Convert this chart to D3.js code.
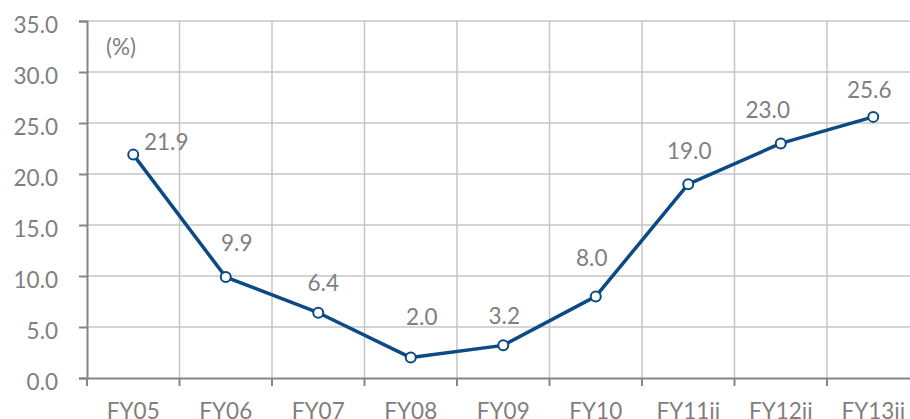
<!DOCTYPE html>
<html>
<head>
<meta charset="utf-8">
<script src="https://cdn.jsdelivr.net/npm/d3@7/dist/d3.min.js"></script>
<style>
  html, body { margin: 0; padding: 0; background: #ffffff; overflow: hidden; }
  svg { display: block; }
  text { font-family: Lato, "Open Sans", sans-serif; fill: #7f7f7f; }
</style>
</head>
<body>
<svg id="chart" width="910" height="419"></svg>
<script>
// Fiscal years and their percentage values
const categories = ["FY05", "FY06", "FY07", "FY08", "FY09", "FY10", "FY11ii", "FY12ii", "FY13ii"];
const values = [21.9, 9.9, 6.4, 2.0, 3.2, 8.0, 19.0, 23.0, 25.6];
const yTicks = [0, 5, 10, 15, 20, 25, 30, 35];
const unitLabel = "(%)";

// Nudges for the value labels, in pixels relative to each point
const labelOffsets = [[33, -5], [11, -26], [5, -22], [11, -33], [1, -21], [-4, -30], [1, -25], [-13, -25], [-4, -19]];

const svg = d3.select("#chart");
const plotLeft = 87, plotRight = 919.5, plotTop = 21, plotBottom = 378;
const fontSize = 22.5;

const x = d3.scaleBand().domain(categories).range([plotLeft, plotRight]).padding(0);
const y = d3.scaleLinear().domain([0, 35]).range([plotBottom, plotTop]);

// Horizontal gridlines
svg.append("g")
  .selectAll("line")
  .data(yTicks.filter(d => d > 0))
  .join("line")
  .attr("x1", plotLeft).attr("x2", plotRight)
  .attr("y1", d => y(d)).attr("y2", d => y(d))
  .attr("stroke", "#c6c6c6").attr("stroke-width", 1.5);

// Vertical gridlines at category boundaries
svg.append("g")
  .selectAll("line")
  .data(categories)
  .join("line")
  .attr("x1", d => x(d) + x.bandwidth()).attr("x2", d => x(d) + x.bandwidth())
  .attr("y1", plotTop).attr("y2", plotBottom)
  .attr("stroke", "#c6c6c6").attr("stroke-width", 1.5);

// Y axis
const yAxis = d3.axisLeft(y).tickValues(yTicks).tickSize(8).tickPadding(21)
  .tickFormat(d3.format(".1f"));
const gy = svg.append("g").attr("transform", `translate(${plotLeft},0)`).call(yAxis);
gy.select(".domain").attr("stroke", "#868686").attr("stroke-width", 2);
gy.selectAll(".tick line").attr("stroke", "#868686").attr("stroke-width", 2);
gy.selectAll(".tick text")
  .attr("fill", "#7f7f7f")
  .style("font-family", "Lato, 'Open Sans', sans-serif")
  .style("font-size", fontSize + "px")
  .attr("dy", "0.5em");

// X axis with ticks on category boundaries
const xAxis = d3.axisBottom(x).tickSize(0).tickPadding(0);
const gx = svg.append("g").attr("transform", `translate(0,${plotBottom})`).call(xAxis);
gx.select(".domain").attr("stroke", "#868686").attr("stroke-width", 2);
gx.selectAll(".tick text")
  .attr("fill", "#7f7f7f")
  .style("font-family", "Lato, 'Open Sans', sans-serif")
  .style("font-size", fontSize + "px")
  .attr("y", 41).attr("dy", 0);
gx.append("g")
  .selectAll("line")
  .data([plotLeft].concat(categories.map(d => x(d) + x.bandwidth())))
  .join("line")
  .attr("x1", d => d).attr("x2", d => d)
  .attr("y1", 0).attr("y2", 8)
  .attr("stroke", "#868686").attr("stroke-width", 2);

// Unit label
svg.append("text")
  .attr("x", 106).attr("y", 55)
  .style("font-size", fontSize + "px")
  .text(unitLabel);

// Line series
const pts = categories.map((c, i) => ({ c, v: values[i], off: labelOffsets[i] }));
const cx = d => x(d.c) + x.bandwidth() / 2;
const lineColor = "#0b4a84";

svg.append("path")
  .datum(pts)
  .attr("fill", "none")
  .attr("stroke", lineColor)
  .attr("stroke-width", 3.5)
  .attr("stroke-linejoin", "round")
  .attr("d", d3.line().x(cx).y(d => y(d.v)));

svg.append("g")
  .selectAll("circle")
  .data(pts)
  .join("circle")
  .attr("cx", cx).attr("cy", d => y(d.v))
  .attr("r", 5)
  .attr("fill", "#ffffff")
  .attr("stroke", lineColor)
  .attr("stroke-width", 2);

// Value labels
svg.append("g")
  .selectAll("text")
  .data(pts)
  .join("text")
  .attr("x", d => cx(d) + d.off[0])
  .attr("y", d => y(d.v) + d.off[1])
  .attr("text-anchor", "middle")
  .style("font-size", fontSize + "px")
  .text(d => d3.format(".1f")(d.v));
</script>
</body>
</html>
